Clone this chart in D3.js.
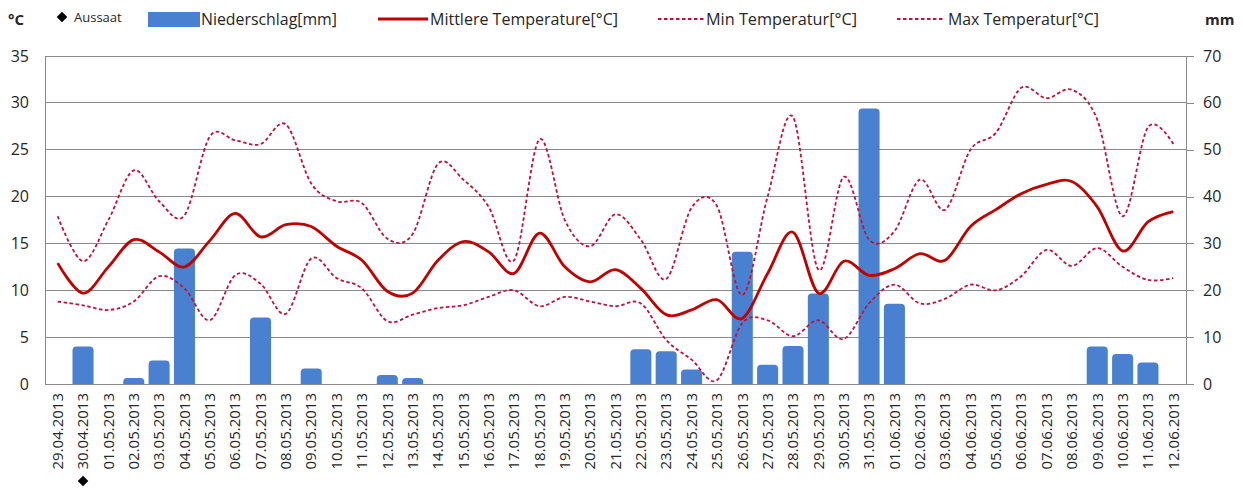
<!DOCTYPE html>
<html>
<head>
<meta charset="utf-8">
<script src="https://cdn.jsdelivr.net/npm/d3@7"></script>
<style>
  html, body { margin: 0; padding: 0; background: #fff; }
  svg { display: block; font-family: "Open Sans", "Liberation Sans", sans-serif; }
</style>
</head>
<body>
<svg id="chart" width="1243" height="492"></svg>
<script>
// Daily weather record, 29.04.2013 – 12.06.2013
const dates = [
  "29.04.2013","30.04.2013",
  "01.05.2013","02.05.2013","03.05.2013","04.05.2013","05.05.2013","06.05.2013","07.05.2013","08.05.2013",
  "09.05.2013","10.05.2013","11.05.2013","12.05.2013","13.05.2013","14.05.2013","15.05.2013","16.05.2013",
  "17.05.2013","18.05.2013","19.05.2013","20.05.2013","21.05.2013","22.05.2013","23.05.2013","24.05.2013",
  "25.05.2013","26.05.2013","27.05.2013","28.05.2013","29.05.2013","30.05.2013","31.05.2013",
  "01.06.2013","02.06.2013","03.06.2013","04.06.2013","05.06.2013","06.06.2013","07.06.2013","08.06.2013",
  "09.06.2013","10.06.2013","11.06.2013","12.06.2013"
];

// Niederschlag [mm]
const precip = [
  0, 8.0, 0, 1.3, 5.0, 28.9, 0, 0, 14.2, 0, 3.3, 0, 0, 1.9, 1.3,
  0, 0, 0, 0, 0, 0, 0, 0,
  7.4, 7.0, 3.1, 0, 28.2, 4.1, 8.1, 19.3, 0, 58.8, 17.1,
  0, 0, 0, 0, 0, 0, 0,
  8.0, 6.4, 4.6, 0
];

// Mittlere Temperatur [°C]
const tMean = [
  12.9, 9.7, 12.5, 15.4, 14.1, 12.5, 15.3, 18.2, 15.7, 17.0, 16.8, 14.7, 13.2, 9.9, 9.7,
  13.2, 15.2, 14.1, 11.8, 16.1, 12.5, 10.9, 12.2, 10.2, 7.4, 7.9, 9.0, 7.0, 11.8, 16.2, 9.7,
  13.1, 11.6, 12.3, 13.9, 13.2, 16.8, 18.6, 20.3, 21.3, 21.6, 18.9, 14.2, 17.3, 18.4
];

// Min Temperatur [°C]
const tMin = [
  8.8, 8.4, 7.9, 8.8, 11.5, 10.2, 6.8, 11.6, 10.7, 7.5, 13.4, 11.3, 10.2, 6.7, 7.4,
  8.1, 8.4, 9.3, 10.0, 8.3, 9.3, 8.8, 8.3, 8.6, 4.7, 2.6, 0.4, 6.5, 6.8, 5.1, 6.8,
  4.8, 8.6, 10.6, 8.6, 9.1, 10.6, 10.0, 11.5, 14.3, 12.6, 14.5, 12.5, 11.1, 11.3
];

// Max Temperatur [°C]
const tMax = [
  17.9, 13.1, 17.5, 22.8, 19.5, 18.0, 26.4, 26.0, 25.6, 27.7, 21.4, 19.5, 19.3, 15.5, 16.0,
  23.5, 21.8, 18.9, 13.2, 26.1, 17.5, 14.7, 18.1, 15.4, 11.2, 18.8, 19.0, 9.5, 20.0, 28.5, 12.2,
  22.1, 15.4, 16.3, 21.8, 18.6, 25.0, 26.8, 31.6, 30.5, 31.4, 28.2, 17.9, 27.4, 25.6
];

// Sowing date
const sowingDates = ["30.04.2013"];

const tempTicks = [0, 5, 10, 15, 20, 25, 30, 35];
const precipTicks = [0, 10, 20, 30, 40, 50, 60, 70];

const svg = d3.select("#chart");
const plot = { left: 45, right: 1186, top: 56, bottom: 384 };

const x = d3.scaleBand()
  .domain(dates)
  .range([plot.left, plot.right])
  .paddingInner(0.17)
  .paddingOuter(0.085);
const cx = d => x(d) + x.bandwidth() / 2;

const yT = d3.scaleLinear().domain([0, 35]).range([plot.bottom, plot.top]);
const yP = d3.scaleLinear().domain([0, 70]).range([plot.bottom, plot.top]);

const gridColor = "#8a8a8a";
const textColor = "#262626";

// Horizontal grid
svg.append("g")
  .selectAll("line")
  .data(tempTicks.filter(t => t > 0))
  .join("line")
  .attr("x1", plot.left).attr("x2", plot.right)
  .attr("y1", d => yT(d)).attr("y2", d => yT(d))
  .attr("stroke", gridColor).attr("stroke-width", 1)
  .attr("shape-rendering", "crispEdges");

// Left axis (°C)
const leftAxis = svg.append("g")
  .attr("transform", `translate(${plot.left},0)`)
  .call(d3.axisLeft(yT).tickValues(tempTicks).tickSize(0).tickPadding(16));
leftAxis.select(".domain").attr("stroke", gridColor).attr("shape-rendering", "crispEdges");
leftAxis.selectAll("text").attr("font-size", 16).attr("fill", textColor)
  .attr("font-family", "'Open Sans', sans-serif");

// Right axis (mm)
const rightAxis = svg.append("g")
  .attr("transform", `translate(${plot.right},0)`)
  .call(d3.axisRight(yP).tickValues(precipTicks).tickSize(8).tickPadding(9));
rightAxis.select(".domain").attr("stroke", gridColor).attr("shape-rendering", "crispEdges");
rightAxis.selectAll(".tick line").attr("stroke", gridColor).attr("shape-rendering", "crispEdges");
rightAxis.selectAll("text").attr("font-size", 16).attr("fill", textColor)
  .attr("font-family", "'Open Sans', sans-serif");

// Bottom axis with rotated date labels
const bottomAxis = svg.append("g")
  .attr("transform", `translate(0,${plot.bottom})`)
  .call(d3.axisBottom(x).tickSize(0).tickPadding(0));
bottomAxis.select(".domain").attr("stroke", gridColor).attr("shape-rendering", "crispEdges");
bottomAxis.selectAll("text")
  .attr("font-size", 15)
  .attr("fill", textColor)
  .attr("font-family", "'Open Sans', sans-serif")
  .attr("text-anchor", "end")
  .attr("transform", "translate(0,9) rotate(-90)")
  .attr("x", 0).attr("y", 0).attr("dy", "0.35em");

// Precipitation bars with rounded tops
const barColor = "#4a80d0";
function roundedTopBar(x0, y0, w, h, r) {
  r = Math.min(r, h, w / 2);
  return `M${x0},${y0 + h}V${y0 + r}Q${x0},${y0} ${x0 + r},${y0}` +
         `H${x0 + w - r}Q${x0 + w},${y0} ${x0 + w},${y0 + r}V${y0 + h}Z`;
}
svg.append("g")
  .selectAll("path")
  .data(dates.map((d, i) => ({ d, v: precip[i] })).filter(e => e.v > 0))
  .join("path")
  .attr("d", e => roundedTopBar(x(e.d), yP(e.v), x.bandwidth(), plot.bottom - yP(e.v), 4))
  .attr("fill", barColor);

// Temperature lines
const line = d3.line()
  .x((v, i) => cx(dates[i]))
  .y(v => yT(v))
  .curve(d3.curveCardinal.tension(0));

const dashColor = "#c0103c";
svg.append("path").datum(tMin).attr("d", line)
  .attr("fill", "none").attr("stroke", dashColor).attr("stroke-width", 1.8)
  .attr("stroke-dasharray", "3.5,2.5");
svg.append("path").datum(tMax).attr("d", line)
  .attr("fill", "none").attr("stroke", dashColor).attr("stroke-width", 1.8)
  .attr("stroke-dasharray", "3.5,2.5");
svg.append("path").datum(tMean).attr("d", line)
  .attr("fill", "none").attr("stroke", "#c00000").attr("stroke-width", 2.8);

// Sowing marker below the date labels
const diamond = d3.symbol().type(d3.symbolSquare).size(56);
svg.append("g")
  .selectAll("path")
  .data(sowingDates)
  .join("path")
  .attr("d", diamond)
  .attr("transform", d => `translate(${cx(d)},481) rotate(45)`)
  .attr("fill", "#000");

// Unit labels
svg.append("text").attr("x", 8).attr("y", 25).text("°C")
  .attr("font-size", 15).attr("font-weight", "bold").attr("fill", textColor);
svg.append("text").attr("x", 1205).attr("y", 25).text("mm")
  .attr("font-size", 15).attr("font-weight", "bold").attr("fill", textColor);

// Legend
const lg = svg.append("g").attr("font-size", 16).attr("fill", textColor);
lg.append("path").attr("d", diamond).attr("transform", "translate(62,17) rotate(45)").attr("fill", "#000");
lg.append("text").attr("x", 74).attr("y", 22).attr("font-size", 13).text("Aussaat");

lg.append("rect").attr("x", 148).attr("y", 12).attr("width", 52).attr("height", 15).attr("fill", barColor);
lg.append("text").attr("x", 201).attr("y", 25).text("Niederschlag[mm]")
  .attr("textLength", 136).attr("lengthAdjust", "spacingAndGlyphs");

lg.append("line").attr("x1", 378).attr("x2", 428).attr("y1", 19).attr("y2", 19)
  .attr("stroke", "#c00000").attr("stroke-width", 2.8);
lg.append("text").attr("x", 430).attr("y", 25).text("Mittlere Temperature[°C]")
  .attr("textLength", 188).attr("lengthAdjust", "spacingAndGlyphs");

lg.append("line").attr("x1", 658).attr("x2", 704).attr("y1", 19).attr("y2", 19)
  .attr("stroke", dashColor).attr("stroke-width", 1.8).attr("stroke-dasharray", "3.5,2.5");
lg.append("text").attr("x", 706).attr("y", 25).text("Min Temperatur[°C]")
  .attr("textLength", 151).attr("lengthAdjust", "spacingAndGlyphs");

lg.append("line").attr("x1", 897).attr("x2", 943).attr("y1", 19).attr("y2", 19)
  .attr("stroke", dashColor).attr("stroke-width", 1.8).attr("stroke-dasharray", "3.5,2.5");
lg.append("text").attr("x", 948).attr("y", 25).text("Max Temperatur[°C]")
  .attr("textLength", 151).attr("lengthAdjust", "spacingAndGlyphs");
</script>
</body>
</html>
